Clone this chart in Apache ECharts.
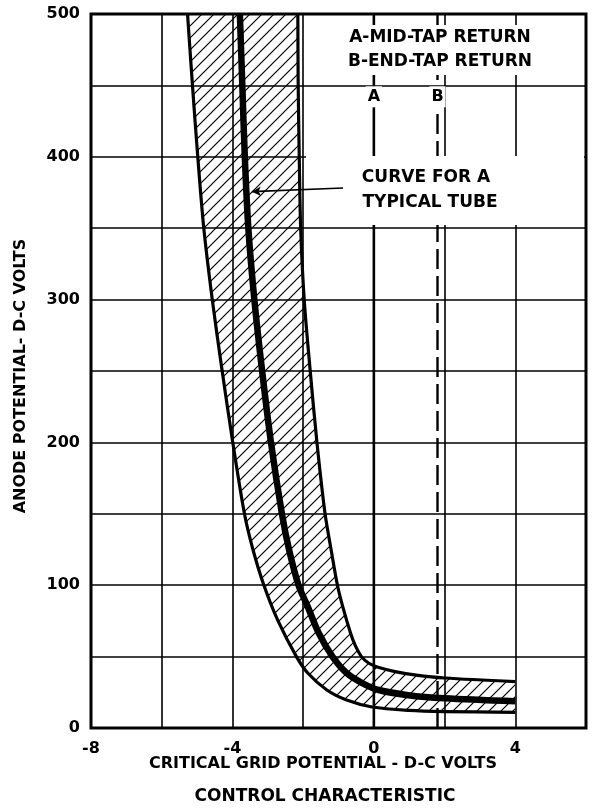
<!DOCTYPE html>
<html>
<head>
<meta charset="utf-8">
<script src="https://cdn.jsdelivr.net/npm/echarts@6/dist/echarts.min.js"></script>
<style>
    html, body { margin: 0; padding: 0; background: #fff; }
    #chart { width: 594px; height: 810px; }
</style>
</head>
<body>
<div id="chart"></div>
<script>
    // curve values (grid volts, anode volts)
    const lowerX = [-5.27, -5.13, -4.98, -4.81, -4.57, -4.29, -3.99, -3.66, -3.42, -3.11, -2.71, -2.19, -1.87, -1.33, -0.77, -0.05, 1, 2, 4];
    const lowerY = [500, 450, 400, 350, 300, 250, 200, 150, 125, 100, 75, 50, 38.5, 26.6, 19.6, 14.7, 12.3, 11.5, 11];
    const typicalX = [-3.79, -3.72, -3.65, -3.55, -3.38, -3.16, -2.91, -2.60, -2.40, -2.13, -1.87, -1.56, -1.17, -0.77, -0.33, 0.14, 0.97, 2, 4];
    const typicalY = [500, 450, 400, 350, 300, 250, 200, 150, 125, 100, 85, 66.5, 50, 38.5, 31.5, 26.6, 23, 20.8, 18.7];
    const upperX = [-2.15, -2.14, -2.11, -2.07, -1.97, -1.80, -1.61, -1.38, -1.21, -1.03, -0.88, -0.66, -0.53, -0.35, -0.15, 0.12, 0.6, 1.2, 2, 4];
    const upperY = [500, 450, 400, 350, 300, 250, 200, 150, 125, 100, 85, 66.5, 58, 50, 45.5, 42.5, 39.5, 37, 35, 32.5];

    const xTickLabels = [-8, -4, 0, 4];
    const yTickLabels = [0, 100, 200, 300, 400, 500];

    // grid return lines
    const returnNames = ['A', 'B'];
    const returnX = [0, 1.8];

    const font = 'DejaVu Sans';

    function pairs(xs, ys) {
        return xs.map((x, i) => [x, ys[i]]);
    }

    // diagonal hatching tile
    function hatch() {
        const s = 12;
        const c = document.createElement('canvas');
        c.width = s;
        c.height = s;
        const ctx = c.getContext('2d');
        ctx.strokeStyle = '#000';
        ctx.lineWidth = 1.2;
        ctx.beginPath();
        ctx.moveTo(-1, s + 1);
        ctx.lineTo(s + 1, -1);
        ctx.moveTo(-1, 1);
        ctx.lineTo(1, -1);
        ctx.moveTo(s - 1, s + 1);
        ctx.lineTo(s + 1, s - 1);
        ctx.stroke();
        return c;
    }
    const hatchFill = { image: hatch(), repeat: 'repeat' };

    const chart = echarts.init(document.getElementById('chart'));

    const curveLine = (name, xs, ys, width) => ({
        name: name,
        type: 'line',
        data: pairs(xs, ys),
        smooth: 0.3,
        symbol: 'none',
        z: 5,
        lineStyle: { color: '#000', width: width, cap: 'butt', join: 'round' }
    });

    const option = {
        animation: false,
        backgroundColor: '#fff',
        grid: {
            left: 91, right: 8, top: 14, bottom: 82,
            show: true, borderColor: '#000', borderWidth: 3
        },
        xAxis: {
            type: 'value',
            min: -8, max: 6, interval: 2,
            axisLine: { show: false },
            axisTick: { show: false },
            axisLabel: {
                margin: 13,
                color: '#000',
                fontFamily: font,
                fontWeight: 'bold',
                fontSize: 16,
                formatter: v => xTickLabels.includes(v) ? String(v) : ''
            },
            splitLine: { lineStyle: { color: '#000', width: 1.6 } }
        },
        yAxis: {
            type: 'value',
            min: 0, max: 500, interval: 50,
            axisLine: { show: false },
            axisTick: { show: false },
            axisLabel: {
                margin: 11,
                color: '#000',
                fontFamily: font,
                fontWeight: 'bold',
                fontSize: 16,
                formatter: v => yTickLabels.includes(v) ? String(v) : ''
            },
            splitLine: { lineStyle: { color: '#000', width: 1.6 } }
        },
        graphic: [
            // white boxes behind the notes
            { type: 'rect', z: 10, shape: { x: 333, y: 25, width: 215, height: 50 }, style: { fill: '#fff' } },
            { type: 'rect', z: 10, shape: { x: 306, y: 156, width: 278, height: 69 }, style: { fill: '#fff' } },
            { type: 'text', z: 21, x: 440, y: 38, style: { text: 'A-MID-TAP RETURN', font: 'bold 17px "DejaVu Sans"', fill: '#000', align: 'center', verticalAlign: 'middle' } },
            { type: 'text', z: 21, x: 440, y: 62, style: { text: 'B-END-TAP RETURN', font: 'bold 17px "DejaVu Sans"', fill: '#000', align: 'center', verticalAlign: 'middle' } },
            { type: 'text', z: 21, x: 426, y: 178, style: { text: 'CURVE FOR A', font: 'bold 17px "DejaVu Sans"', fill: '#000', align: 'center', verticalAlign: 'middle' } },
            { type: 'text', z: 21, x: 430, y: 203, style: { text: 'TYPICAL TUBE', font: 'bold 17px "DejaVu Sans"', fill: '#000', align: 'center', verticalAlign: 'middle' } },
            // axis titles
            { type: 'text', z: 21, x: 21, y: 376, rotation: Math.PI / 2, style: { text: 'ANODE POTENTIAL- D-C VOLTS', font: 'bold 16px "DejaVu Sans"', fill: '#000', align: 'center', verticalAlign: 'middle' } },
            { type: 'text', z: 21, x: 323, y: 764, style: { text: 'CRITICAL GRID POTENTIAL - D-C VOLTS', font: 'bold 16px "DejaVu Sans"', fill: '#000', align: 'center', verticalAlign: 'middle' } },
            { type: 'text', z: 21, x: 325, y: 797, style: { text: 'CONTROL CHARACTERISTIC', font: 'bold 17px "DejaVu Sans"', fill: '#000', align: 'center', verticalAlign: 'middle' } }
        ],
        series: [
            {
                // hatched spread between limit tubes
                type: 'custom',
                z: 2,
                data: [[lowerX[0], lowerY[0]]],
                renderItem: (params, api) => {
                    const pts = pairs(lowerX, lowerY)
                        .concat(pairs(upperX, upperY).reverse())
                        .map(p => api.coord(p));
                    return {
                        type: 'polygon',
                        shape: { points: pts },
                        style: { fill: hatchFill, stroke: null }
                    };
                }
            },
            curveLine('lower', lowerX, lowerY, 3.2),
            curveLine('upper', upperX, upperY, 3.2),
            curveLine('typical', typicalX, typicalY, 6.5),
            {
                name: 'A',
                type: 'line',
                data: [[returnX[0], 0], [returnX[0], 500]],
                symbol: 'none',
                z: 4,
                lineStyle: { color: '#000', width: 2.6 }
            },
            {
                name: 'B',
                type: 'line',
                data: [[returnX[1], 0], [returnX[1], 500]],
                symbol: 'none',
                z: 4,
                lineStyle: { color: '#000', width: 2.4, type: [20, 7] }
            },
            {
                type: 'scatter',
                z: 20,
                symbolSize: 0,
                itemStyle: { opacity: 1 },
                data: returnNames.map((n, i) => ({ name: n, value: [returnX[i], 442] })),
                label: {
                    show: true,
                    position: 'inside',
                    formatter: '{b}',
                    color: '#000',
                    fontFamily: font,
                    fontWeight: 'bold',
                    fontSize: 16,
                    backgroundColor: '#fff',
                    padding: [3, 2, 2, 2]
                },
                markLine: {
                    silent: true,
                    z: 20,
                    symbol: ['none', 'arrow'],
                    symbolSize: [7, 9],
                    label: { show: false },
                    lineStyle: { color: '#000', width: 1.6, type: 'solid', opacity: 1 },
                    data: [[{ coord: [-0.87, 378.2] }, { coord: [-3.45, 375.6] }]]
                }
            }
        ]
    };

    chart.setOption(option);
</script>
</body>
</html>
